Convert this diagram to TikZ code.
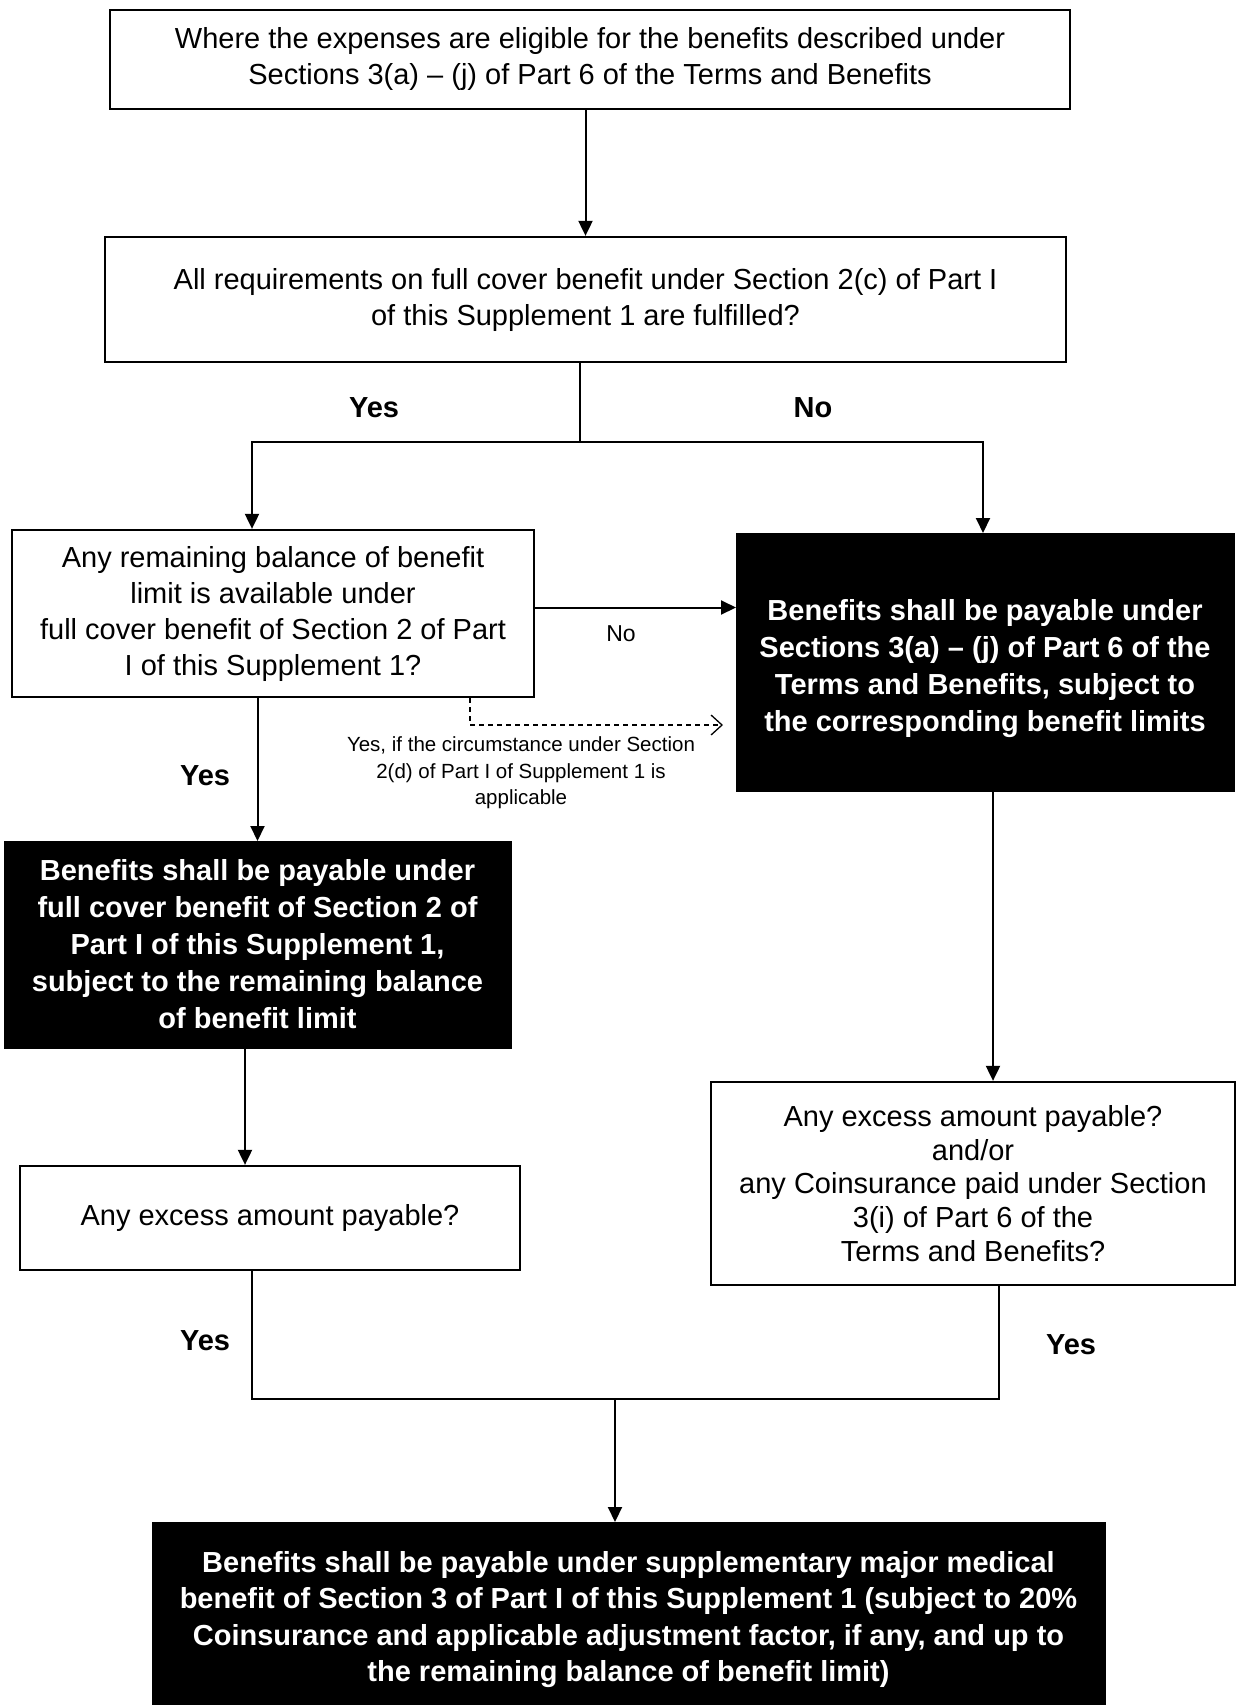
\documentclass[tikz,border=0pt]{standalone}
\usepackage{fontspec}
\setmainfont{Liberation Sans}
\usetikzlibrary{arrows.meta,calc}
\begin{document}
\begin{tikzpicture}[x=1pt,y=-1pt,
  box/.style={draw=black,line width=2.3pt,inner sep=0pt,align=center,font=\fontsize{29}{36}\selectfont},
  blk/.style={fill=black,draw=black,line width=0pt,inner sep=0pt,align=center,text=white,font=\fontsize{29}{37}\selectfont\bfseries},
  conn/.style={line width=2pt},
  arr/.style={conn,-{Triangle[length=15pt,width=14pt]}},
  darr/.style={line width=1.3pt,dash pattern=on 5pt off 4pt,-{Straight Barb[length=11pt,width=20pt]}},
  lbl/.style={font=\fontsize{29}{34}\selectfont\bfseries},
  smlbl/.style={font=\fontsize{23}{28}\selectfont},
  tiny/.style={align=center,font=\fontsize{20.5}{26.5}\selectfont},
]
\useasboundingbox (0,0) rectangle (1236,1705);

\node[box,minimum width=960pt,minimum height=99pt] (b1) at (590,59.5)
  {Where the expenses are eligible for the benefits described under\\Sections 3(a) -- (j) of Part 6 of the Terms and Benefits};
\node[box,minimum width=961pt,minimum height=125pt] (b2) at (585.5,299.5)
  {All requirements on full cover benefit under Section 2(c) of Part I\\of this Supplement 1 are fulfilled?};
\node[box,minimum width=522pt,minimum height=167pt] (b3) at (273,613.5)
  {Any remaining balance of benefit\\limit is available under\\full cover benefit of Section 2 of Part\\I of this Supplement 1?};
\node[blk,minimum width=498pt,minimum height=258pt] (b4) at (985,662)
  {\rule{0pt}{34pt}Benefits shall be payable under\\Sections 3(a) -- (j) of Part 6 of the\\Terms and Benefits, subject to\\the corresponding benefit limits};
\node[blk,minimum width=507pt,minimum height=207pt] (b5) at (257.5,944.5)
  {Benefits shall be payable under\\full cover benefit of Section 2 of\\Part I of this Supplement 1,\\subject to the remaining balance\\of benefit limit};
\node[box,minimum width=500pt,minimum height=104pt] (b6) at (270,1218)
  {Any excess amount payable?};
\node[box,minimum width=524pt,minimum height=203pt,font=\fontsize{29}{33.8}\selectfont] (b7) at (973,1183.5)
  {Any excess amount payable?\\and/or\\any Coinsurance paid under Section\\3(i) of Part 6 of the\\Terms and Benefits?};
\node[blk,minimum width=953pt,minimum height=195pt,font=\fontsize{29}{36.3}\selectfont\bfseries] (b8) at (628.5,1619.5)
  {Benefits shall be payable under supplementary major medical\\benefit of Section 3 of Part I of this Supplement 1 (subject to 20\%\\Coinsurance and applicable adjustment factor, if any, and up to\\the remaining balance of benefit limit)};

% b1 -> b2
\draw[arr] (b1.south -| b2.north) -- (b2.north);

% split from b2
\coordinate (split) at (580,442);
\draw[conn] (b2.south -| split) -- (split);
\draw[arr] (split) -| ([xshift=-21pt]b3.north);
\draw[arr] (split) -| ([xshift=-2pt]b4.north);
\node[lbl] (yes1) at (374,408) {Yes};
\node[lbl] (no1) at (813,408) {No};

% b3 -> b4 (No)
\draw[arr] ([yshift=6pt]b3.east) -- ([yshift=6pt]b3.east -| b4.west);
\node[smlbl] (no2) at (621,634) {No};

% dashed
\coordinate (dturn) at (470,725);
\draw[darr] (b3.south -| dturn) -- (dturn) -- ([xshift=-13pt]dturn -| b4.west);
\node[tiny] (dlbl) at (521,773) {Yes, if the circumstance under Section\\2(d) of Part I of Supplement 1 is\\applicable};

% b3 -> b5
\draw[arr] (b3.south -| b5.north) -- (b5.north);
\node[lbl] (yes2) at (205,776) {Yes};

% b5 -> b6
\draw[arr] ([xshift=-25pt]b6.north |- b5.south) -- ([xshift=-25pt]b6.north);

% b4 -> b7
\draw[arr] ([xshift=20pt]b7.north |- b4.south) -- ([xshift=20pt]b7.north);

% merge
\coordinate (m) at (615,1399);
\draw[conn] ([xshift=-18pt]b6.south) |- ([xshift=26pt]b7.south |- m) -- ([xshift=26pt]b7.south);
\draw[arr] (m) -- (b8.north -| m);
\node[lbl] (yes3) at (205,1341) {Yes};
\node[lbl] (yes4) at (1071,1345) {Yes};
\end{tikzpicture}
\end{document}
